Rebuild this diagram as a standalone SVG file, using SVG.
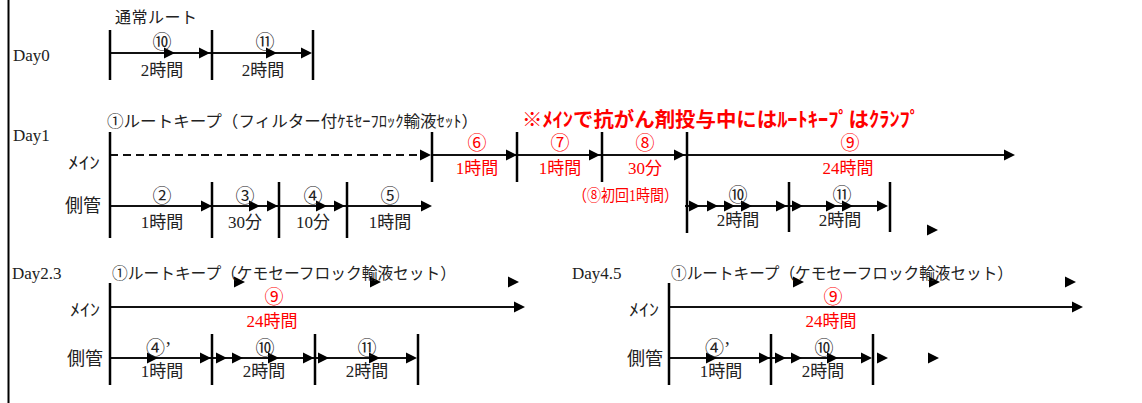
<svg xmlns="http://www.w3.org/2000/svg" xmlns:xlink="http://www.w3.org/1999/xlink" width="1142" height="403" viewBox="0 0 1142 403">
<style>
.t{font-family:'Liberation Serif','Noto Sans CJK JP',serif;fill:#222}
.r{fill:#f00}
.b{font-weight:bold}
.s16{font-size:16px}
.s17{font-size:17px}
.s18{font-size:18px}
.s20{font-size:20px}
.c{font-size:19px}
.m{text-anchor:middle}
.ln{stroke:#111;stroke-width:2;fill:none}
.dash{stroke-dasharray:8 5}
.vl{stroke:#000;stroke-width:2.5;fill:none}
</style>
<defs>
<path id="ah" d="M0,0 L-11,-5.5 L-11,5.5 Z" fill="#000"/>
</defs>
<rect x="0" y="0" width="1142" height="403" fill="#fff"/>
<line x1="8.5" y1="0" x2="8.5" y2="403" stroke="#000" stroke-width="2"/>

<g id="connectors">
  <!-- Day0 -->
  <path class="ln" d="M110,53 H310"/>
  <use xlink:href="#ah" x="175" y="53"/>
  <use xlink:href="#ah" x="210" y="53"/>
  <use xlink:href="#ah" x="277" y="53"/>
  <use xlink:href="#ah" x="312" y="53"/>
  <!-- Day1 main -->
  <path class="ln dash" d="M110,155 H421"/>
  <use xlink:href="#ah" x="431" y="155"/>
  <path class="ln" d="M432,155 H1010"/>
  <path class="ln" stroke-width="3" d="M448,155 H510"/>
  <use xlink:href="#ah" x="517" y="155"/>
  <use xlink:href="#ah" x="600" y="155"/>
  <use xlink:href="#ah" x="685" y="155"/>
  <use xlink:href="#ah" x="1015" y="155"/>
  <!-- Day1 side -->
  <path class="ln" d="M110,206 H428"/>
  <use xlink:href="#ah" x="212" y="206"/>
  <use xlink:href="#ah" x="260" y="206"/>
  <use xlink:href="#ah" x="278" y="206"/>
  <use xlink:href="#ah" x="327" y="206"/>
  <use xlink:href="#ah" x="345" y="206"/>
  <use xlink:href="#ah" x="432" y="206"/>
  <path class="ln" d="M685,206 H886"/>
  <use xlink:href="#ah" x="700" y="206"/>
  <use xlink:href="#ah" x="718" y="206"/>
  <use xlink:href="#ah" x="735" y="206"/>
  <use xlink:href="#ah" x="752" y="206"/>
  <use xlink:href="#ah" x="787" y="206"/>
  <use xlink:href="#ah" x="803" y="206"/>
  <use xlink:href="#ah" x="837" y="206"/>
  <use xlink:href="#ah" x="853" y="206"/>
  <use xlink:href="#ah" x="888" y="206"/>
  <use xlink:href="#ah" x="938" y="230"/>
  <!-- Day2.3 -->
  <path class="ln" d="M110,307 H520"/>
  <use xlink:href="#ah" x="525" y="307"/>
  <use xlink:href="#ah" x="245" y="282"/>
  <use xlink:href="#ah" x="381" y="282"/>
  <use xlink:href="#ah" x="519" y="282"/>
  <path class="ln" d="M110,358 H414"/>
  <use xlink:href="#ah" x="158" y="358"/>
  <use xlink:href="#ah" x="211" y="358"/>
  <use xlink:href="#ah" x="227" y="358"/>
  <use xlink:href="#ah" x="243" y="358"/>
  <use xlink:href="#ah" x="279" y="358"/>
  <use xlink:href="#ah" x="314" y="358"/>
  <use xlink:href="#ah" x="329" y="358"/>
  <use xlink:href="#ah" x="380" y="358"/>
  <use xlink:href="#ah" x="417" y="358"/>
  <!-- Day4.5 -->
  <path class="ln" d="M669,307 H1078"/>
  <use xlink:href="#ah" x="1083" y="307"/>
  <use xlink:href="#ah" x="804" y="282"/>
  <use xlink:href="#ah" x="940" y="282"/>
  <use xlink:href="#ah" x="1076" y="282"/>
  <path class="ln" d="M669,358 H868"/>
  <use xlink:href="#ah" x="717" y="358"/>
  <use xlink:href="#ah" x="770" y="358"/>
  <use xlink:href="#ah" x="786" y="358"/>
  <use xlink:href="#ah" x="802" y="358"/>
  <use xlink:href="#ah" x="838" y="358"/>
  <use xlink:href="#ah" x="872" y="358"/>
  <use xlink:href="#ah" x="888" y="358"/>
  <use xlink:href="#ah" x="939" y="358"/>
</g>

<g id="day0">
  <text class="t s16" x="115" y="23" textLength="82">通常ルート</text>
  <text class="t s17" x="13" y="61">Day0</text>
  <path class="vl" d="M110,30 V80 M212,30 V80 M313,30 V80"/>
  <g id="day0-s10">
    <text class="t c m" x="162" y="49">⑩</text>
    <text class="t s17 m" x="162" y="76">2時間</text>
  </g>
  <g id="day0-s11">
    <text class="t c m" x="265" y="49">⑪</text>
    <text class="t s17 m" x="263" y="76">2時間</text>
  </g>
</g>

<g id="day1">
  <text class="t s17" x="13" y="141">Day1</text>
  <text class="t s16" x="107" y="127" textLength="371" lengthAdjust="spacingAndGlyphs">①ルートキープ（フィルター付ｹﾓｾｰﾌﾛｯｸ輸液ｾｯﾄ）</text>
  <text class="t r b s20" x="522" y="127" textLength="398" lengthAdjust="spacingAndGlyphs">※ﾒｲﾝで抗がん剤投与中にはﾙｰﾄｷｰﾌﾟはｸﾗﾝﾌﾟ</text>
  <text class="t s17" x="68" y="169" textLength="32" lengthAdjust="spacingAndGlyphs">ﾒｲﾝ</text>
  <text class="t s18" x="65" y="212">側管</text>
  <path class="vl" d="M110,132 V238 M212,182 V238 M279,182 V238 M347,182 V238 M432,132 V182 M517,132 V182 M602,132 V182 M687,132 V233 M789,182 V232 M890,182 V232"/>
  <g id="day1-m6">
    <text class="t r c m" x="477" y="150">⑥</text>
    <text class="t r s17 m" x="477" y="174">1時間</text>
  </g>
  <g id="day1-m7">
    <text class="t r c m" x="560" y="150">⑦</text>
    <text class="t r s17 m" x="560" y="174">1時間</text>
  </g>
  <g id="day1-m8">
    <text class="t r c m" x="645" y="150">⑧</text>
    <text class="t r s17 m" x="645" y="174">30分</text>
    <text class="t r s16" x="573" y="201" textLength="105" lengthAdjust="spacingAndGlyphs">（⑧初回1時間）</text>
  </g>
  <g id="day1-m9">
    <text class="t r c m" x="850" y="150">⑨</text>
    <text class="t r s17 m" x="848" y="174">24時間</text>
  </g>
  <g id="day1-s2">
    <text class="t c m" x="162" y="203">②</text>
    <text class="t s17 m" x="162" y="228">1時間</text>
  </g>
  <g id="day1-s3">
    <text class="t c m" x="245" y="203">③</text>
    <text class="t s17 m" x="245" y="228">30分</text>
  </g>
  <g id="day1-s4">
    <text class="t c m" x="313" y="203">④</text>
    <text class="t s17 m" x="313" y="228">10分</text>
  </g>
  <g id="day1-s5">
    <text class="t c m" x="390" y="203">⑤</text>
    <text class="t s17 m" x="390" y="228">1時間</text>
  </g>
  <g id="day1-s10">
    <text class="t c m" x="738" y="202">⑩</text>
    <text class="t s17 m" x="738" y="226">2時間</text>
  </g>
  <g id="day1-s11">
    <text class="t c m" x="842" y="202">⑪</text>
    <text class="t s17 m" x="840" y="226">2時間</text>
  </g>
</g>

<g id="day23">
  <text class="t s17" x="12" y="279">Day2.3</text>
  <text class="t s16" x="112" y="279" textLength="344" lengthAdjust="spacingAndGlyphs">①ルートキープ（ケモセーフロック輸液セット）</text>
  <text class="t s17" x="70" y="316" textLength="30" lengthAdjust="spacingAndGlyphs">ﾒｲﾝ</text>
  <text class="t s18" x="67" y="365">側管</text>
  <path class="vl" d="M110,283 V385 M212,334 V385 M315,334 V385 M418,334 V385"/>
  <g id="day23-m9">
    <text class="t r c m" x="274" y="304">⑨</text>
    <text class="t r s17 m" x="272" y="327">24時間</text>
  </g>
  <g id="day23-s4">
    <text class="t c" x="146" y="355">④’</text>
    <text class="t s17 m" x="162" y="377">1時間</text>
  </g>
  <g id="day23-s10">
    <text class="t c m" x="265" y="355">⑩</text>
    <text class="t s17 m" x="264" y="377">2時間</text>
  </g>
  <g id="day23-s11">
    <text class="t c m" x="367" y="355">⑪</text>
    <text class="t s17 m" x="367" y="377">2時間</text>
  </g>
</g>

<g id="day45">
  <text class="t s17" x="572" y="279">Day4.5</text>
  <text class="t s16" x="671" y="279" textLength="342" lengthAdjust="spacingAndGlyphs">①ルートキープ（ケモセーフロック輸液セット）</text>
  <text class="t s17" x="629" y="316" textLength="30" lengthAdjust="spacingAndGlyphs">ﾒｲﾝ</text>
  <text class="t s18" x="627" y="365">側管</text>
  <path class="vl" d="M669,283 V385 M771,334 V385 M873,334 V385"/>
  <g id="day45-m9">
    <text class="t r c m" x="833" y="304">⑨</text>
    <text class="t r s17 m" x="831" y="327">24時間</text>
  </g>
  <g id="day45-s4">
    <text class="t c" x="705" y="355">④’</text>
    <text class="t s17 m" x="721" y="377">1時間</text>
  </g>
  <g id="day45-s10">
    <text class="t c m" x="824" y="355">⑩</text>
    <text class="t s17 m" x="823" y="377">2時間</text>
  </g>
</g>
</svg>
